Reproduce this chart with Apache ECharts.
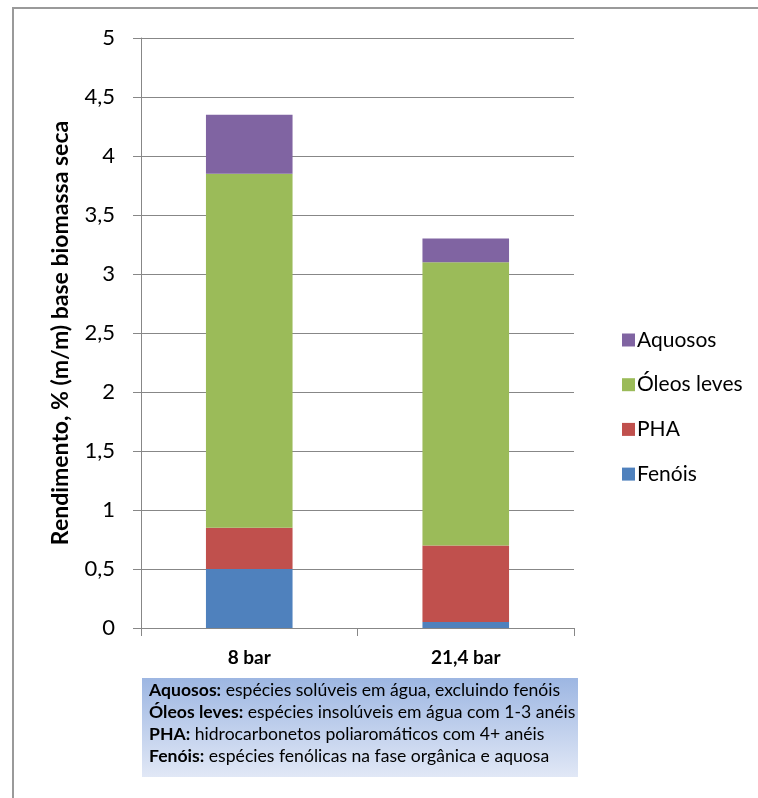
<!DOCTYPE html>
<html>
<head>
<meta charset="utf-8">
<script src="https://cdn.jsdelivr.net/npm/echarts@6/dist/echarts.min.js"></script>
<style>
  html, body { margin: 0; padding: 0; background: #fff; }
  #chart { width: 758px; height: 798px; }
</style>
</head>
<body>
<div id="chart"></div>
<script>
// Pressure conditions (categories on the x axis)
const categories = ['8 bar', '21,4 bar'];

// Yield of each product class, % (m/m) on dry biomass basis
const fenois = [0.5, 0.05];
const pha = [0.35, 0.65];
const oleosLeves = [3.0, 2.4];
const aquosos = [0.5, 0.2];

// Y axis range and step
const yMin = 0;
const yMax = 5;
const yStep = 0.5;

// Notes explaining each product class
const noteLines = [
  ['Aquosos:', ' espécies solúveis em água, excluindo fenóis'],
  ['Óleos leves:', ' espécies insolúveis em água com 1-3 anéis'],
  ['PHA:', ' hidrocarbonetos poliaromáticos com 4+ anéis'],
  ['Fenóis:', ' espécies fenólicas na fase orgânica e aquosa']
];

const FONT = 'Lato, "Open Sans", sans-serif';
const AXIS_GREY = '#878787';

const chart = echarts.init(document.getElementById('chart'), null, { renderer: 'canvas' });

function barSeries(name, data, color) {
  return {
    name: name,
    type: 'bar',
    stack: 'total',
    data: data,
    barWidth: '40%',
    itemStyle: { color: color },
    emphasis: { disabled: true }
  };
}

const noteText = noteLines.map(l => '{b|' + l[0] + '}{r|' + l[1] + '}').join('\n');

chart.setOption({
  animation: false,
  backgroundColor: '#ffffff',
  grid: { left: 141, right: 184, top: 38, bottom: 170, containLabel: false },
  legend: {
    orient: 'vertical',
    left: 617,
    top: 324,
    itemWidth: 13,
    itemHeight: 13,
    itemGap: 22.7,
    icon: 'rect',
    selectedMode: false,
    data: ['Aquosos', 'Óleos leves', 'PHA', 'Fenóis'],
    textStyle: { fontFamily: FONT, fontSize: 21, color: '#000', padding: [0, 0, 0, -3], lineHeight: 22 }
  },
  xAxis: {
    type: 'category',
    data: categories,
    axisLine: { lineStyle: { color: AXIS_GREY, width: 1 } },
    axisTick: { show: true, alignWithLabel: false, length: 8, lineStyle: { color: AXIS_GREY } },
    axisLabel: { fontFamily: FONT, fontWeight: 'bold', fontSize: 19, color: '#000', margin: 20 }
  },
  yAxis: {
    type: 'value',
    min: yMin,
    max: yMax,
    interval: yStep,
    name: 'Rendimento, % (m/m) base biomassa seca',
    nameLocation: 'middle',
    nameGap: 69,
    nameRotate: 90,
    nameTextStyle: { fontFamily: FONT, fontWeight: 'bold', fontSize: 23, color: '#000' },
    axisLine: { show: true, lineStyle: { color: AXIS_GREY, width: 1 } },
    axisTick: { show: true, length: 8, lineStyle: { color: AXIS_GREY } },
    axisLabel: {
      fontFamily: FONT, fontSize: 22, color: '#000', margin: 26,
      formatter: v => String(v).replace('.', ',')
    },
    splitLine: { show: true, lineStyle: { color: AXIS_GREY, width: 1 } }
  },
  series: [
    barSeries('Fenóis', fenois, '#4F81BD'),
    barSeries('PHA', pha, '#C0504D'),
    barSeries('Óleos leves', oleosLeves, '#9BBB59'),
    barSeries('Aquosos', aquosos, '#8064A2')
  ],
  graphic: [
    {
      type: 'rect',
      silent: true,
      shape: { x: 13, y: 8, width: 900, height: 900 },
      style: { fill: 'none', stroke: '#9a9a9a', lineWidth: 2 }
    },
    {
      type: 'rect',
      silent: true,
      shape: { x: 142, y: 678, width: 436, height: 99 },
      style: {
        fill: new echarts.graphic.LinearGradient(0, 0, 0, 1, [
          { offset: 0, color: '#9db6e2' },
          { offset: 1, color: '#e1e8f6' }
        ])
      }
    },
    {
      type: 'text',
      silent: true,
      left: 149,
      top: 681,
      style: {
        text: noteText,
        rich: {
          b: { fontFamily: FONT, fontWeight: 'bold', fontSize: 17.6, lineHeight: 22, fill: '#000' },
          r: { fontFamily: FONT, fontSize: 17.6, lineHeight: 22, fill: '#000' }
        }
      }
    }
  ]
});
</script>
</body>
</html>
